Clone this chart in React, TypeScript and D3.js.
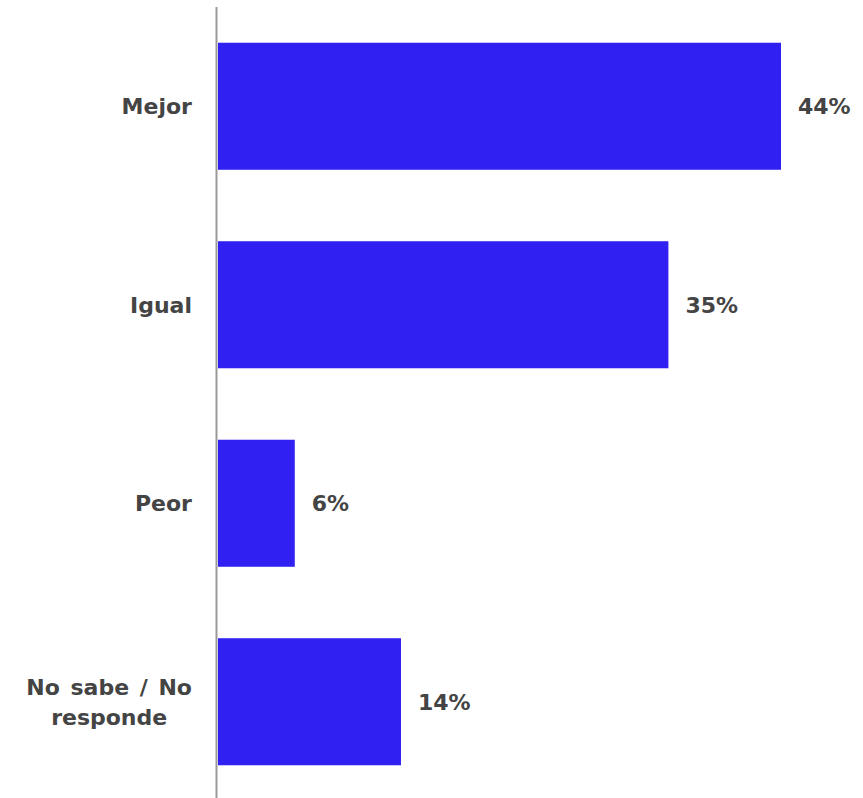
import React, { useEffect, useRef } from "react";
import * as d3 from "d3";

const categories: string[][] = [["Mejor"], ["Igual"], ["Peor"], ["No sabe / No", "responde"]];
const values: number[] = [44, 35.2, 6, 14.3];
const valueLabels: string[] = ["44%", "35%", "6%", "14%"];

const W = 863;
const H = 798;
const X0 = 218;
const FONT = "'DejaVu Sans', sans-serif";
const TEXT = "#444444";
const BAR = "#3021F2";

export default function App() {
  const ref = useRef<SVGSVGElement>(null);
  useEffect(() => {
    const svg = d3.select(ref.current);
    svg.selectAll("*").remove();
    const idx = categories.map((_, i) => String(i));
    const y = d3.scaleBand<string>().domain(idx).range([7, 801]).paddingInner(0.36).paddingOuter(0.18);
    const x = d3.scaleLinear().domain([0, 44]).range([X0, 781]);

    svg
      .selectAll("rect.bar")
      .data(values)
      .join("rect")
      .attr("class", "bar")
      .attr("x", x(0))
      .attr("y", (_, i) => y(String(i))!)
      .attr("width", (d) => x(d) - x(0))
      .attr("height", y.bandwidth())
      .attr("fill", BAR);

    svg
      .append("line")
      .attr("x1", 216.5)
      .attr("x2", 216.5)
      .attr("y1", 7)
      .attr("y2", H)
      .attr("stroke", "#9a9a9a")
      .attr("stroke-width", 2);

    const lh = 30;
    categories.forEach((lines, i) => {
      const cy = y(String(i))! + y.bandwidth() / 2;
      const g = svg
        .append("text")
        .attr("font-family", FONT)
        .attr("font-weight", 700)
        .attr("font-size", 22)
        .attr("fill", TEXT)
        .attr("text-anchor", "middle");
      const n = lines.length;
      lines.forEach((l, j) => {
        g.append("tspan")
          .attr("x", 0)
          .attr("y", cy + (j - (n - 1) / 2) * lh)
          .attr("dy", "0.36em")
          .attr("word-spacing", 3)
          .text(l);
      });
      const bb = (g.node() as SVGTextElement).getBBox();
      g.attr("transform", `translate(${192 - bb.width / 2},0)`);
    });

    svg
      .selectAll("text.val")
      .data(values)
      .join("text")
      .attr("class", "val")
      .attr("x", (d) => x(d) + 17)
      .attr("y", (_, i) => y(String(i))! + y.bandwidth() / 2)
      .attr("dy", "0.36em")
      .attr("font-family", FONT)
      .attr("font-weight", 700)
      .attr("font-size", 22)
      .attr("fill", TEXT)
      .text((_, i) => valueLabels[i]);
  }, []);
  return (
    <svg
      ref={ref}
      width={W}
      height={H}
      style={{ position: "absolute", left: 0, top: 0, background: "#fff" }}
    />
  );
}
